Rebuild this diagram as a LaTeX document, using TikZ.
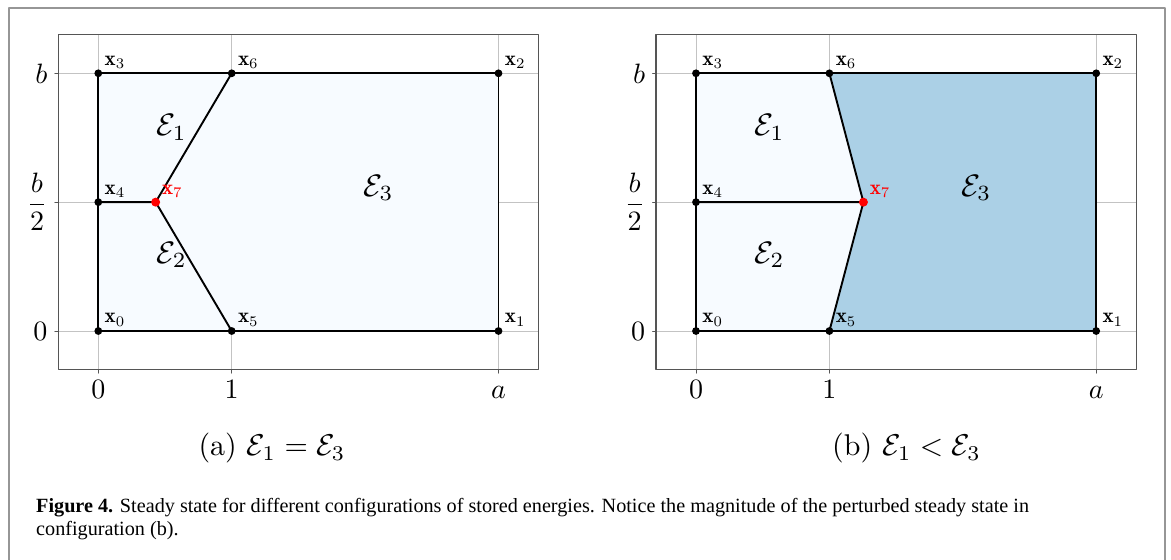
\RequirePackage{fix-cm}
\documentclass[tikz,border=0pt]{standalone}
\usepackage{amsmath}
\usepackage{fontspec}
\newfontfamily\capfont{Liberation Serif}
\definecolor{paleblue}{RGB}{247,251,255}
\definecolor{midblue}{RGB}{171,208,230}
\definecolor{spine}{RGB}{85,85,85}
\definecolor{gridgray}{RGB}{195,195,195}
\definecolor{boxgray}{RGB}{150,150,150}

\begin{document}
\begin{tikzpicture}[
		x=1pt, y=1pt,
		line cap=round,
		line join=round,
		ticklab/.style={inner sep=1.2pt, scale=2.8, transform shape},
		ptlab/.style={anchor=base west, inner sep=0pt, xshift=6pt, yshift=8pt, scale=2.1, transform shape},
		enlab/.style={scale=3.1, transform shape},
		subcap/.style={anchor=base, scale=3.0, transform shape},
		edge/.style={line width=1.9pt, black}
		]
		% =========================
		% Page and outer box
		% =========================
		\useasboundingbox (0,0) rectangle (1171,560);
		\draw[boxgray, line width=1.6pt, line cap=butt]
		(9,0) -- (9,552) -- (1165,552) -- (1165,0);
		
		% --------------------------------
		% Both panels: name/origin/x7/fill/relation/caption x
		% --------------------------------
		\foreach \p/\ox/\xs/\fc/\rel/\cx in {
			a/98.3/0.43/paleblue/=/272,
			b/696/1.255/midblue/</906.5
		}
		{
			\begin{scope}[shift={(\ox,229)}, x=133.4pt, y=128.85pt]
				% vertices
				\coordinate (\p-0) at (0,0);
				\coordinate (\p-1) at (3,0);
				\coordinate (\p-2) at (3,2);
				\coordinate (\p-3) at (0,2);
				\coordinate (\p-4) at (0,1);
				\coordinate (\p-5) at (1,0);
				\coordinate (\p-6) at (1,2);
				\coordinate (\p-7) at (\xs,1);
				
				% grid, below the fill
				\foreach \gx in {0,1,3}
				{
					\draw[gridgray, line width=0.8pt] (\gx,-0.3) -- (\gx,2.3);
					\draw[spine, line width=0.8pt] (\gx,-0.3) -- ++(0,-3.5pt);
				}
				\foreach \gy in {0,1,2}
				{
					\draw[gridgray, line width=0.8pt] (-0.3,\gy) -- (3.3,\gy);
					\draw[spine, line width=0.8pt] (-0.3,\gy) -- ++(-3.5pt,0);
				}
				
				% regions
				\fill[paleblue] (\p-0) rectangle (\p-2);
				\fill[\fc] (\p-5) -- (\p-1) -- (\p-2) -- (\p-6) -- (\p-7) -- cycle;
				
				% frame
				\draw[spine, line width=1.1pt, line cap=butt] (-0.3,-0.3) rectangle (3.3,2.3);
				
				% edges
				\draw[edge] (\p-0) -- (\p-5) -- (\p-1) -- (\p-2) -- (\p-6) -- (\p-3) -- cycle;
				\draw[edge] (\p-4) -- (\p-7) -- (\p-6);
				\draw[edge] (\p-7) -- (\p-5);
				
				% vertices and their labels
				\foreach \k in {0,...,6}
				{
					\fill (\p-\k) circle (3.9pt);
					\node[ptlab] (\p-l\k) at (\p-\k) {$\mathbf{x}_{\k}$};
				}
				\fill[red] (\p-7) circle (4.5pt);
				\node[ptlab, red] (\p-l7) at (\p-7) {$\mathbf{x}_7$};
				
				% energies
				\node[enlab] (\p-e1) at (0.55,1.58) {$\mathcal{E}_1$};
				\node[enlab] (\p-e2) at (0.55,0.59) {$\mathcal{E}_2$};
				\node[enlab] (\p-e3) at (2.1,1.11) {$\mathcal{E}_3$};
				
				% tick labels
				\node[anchor=base, yshift=-29pt, ticklab] (\p-tx0) at (0,-0.3) {$0$};
				\node[anchor=base, yshift=-29pt, ticklab] (\p-tx1) at (1,-0.3) {$1$};
				\node[anchor=base, yshift=-29pt, ticklab] (\p-tx3) at (3,-0.3) {$a$};
				\node[anchor=east, xshift=-7pt, ticklab] (\p-ty0) at (-0.3,0) {$0$};
				\node[anchor=east, xshift=-7pt, ticklab] (\p-ty1) at (-0.3,1) {$\dfrac{b}{2}$};
				\node[anchor=east, xshift=-7pt, ticklab] (\p-ty2) at (-0.3,2) {$b$};
			\end{scope}
			
			% sub caption
			\node[subcap] (\p-cap) at (\cx,104)
			{(\p) $\mathcal{E}_1 \rel \mathcal{E}_3$};
		}
		
		% --------------------------------
		% Figure caption
		% --------------------------------
		\node[anchor=base west, inner sep=0pt, font=\capfont\fontsize{20.2}{23}\selectfont] (cap1) at (36,47)
		{\textbf{Figure 4.} Steady state for different configurations of stored energies. Notice the magnitude of the perturbed steady state in};
		\node[anchor=base west, inner sep=0pt, font=\capfont\fontsize{20.2}{23}\selectfont] (cap2) at (36,24)
		{configuration (b).};
		
	\end{tikzpicture}
\end{document}
